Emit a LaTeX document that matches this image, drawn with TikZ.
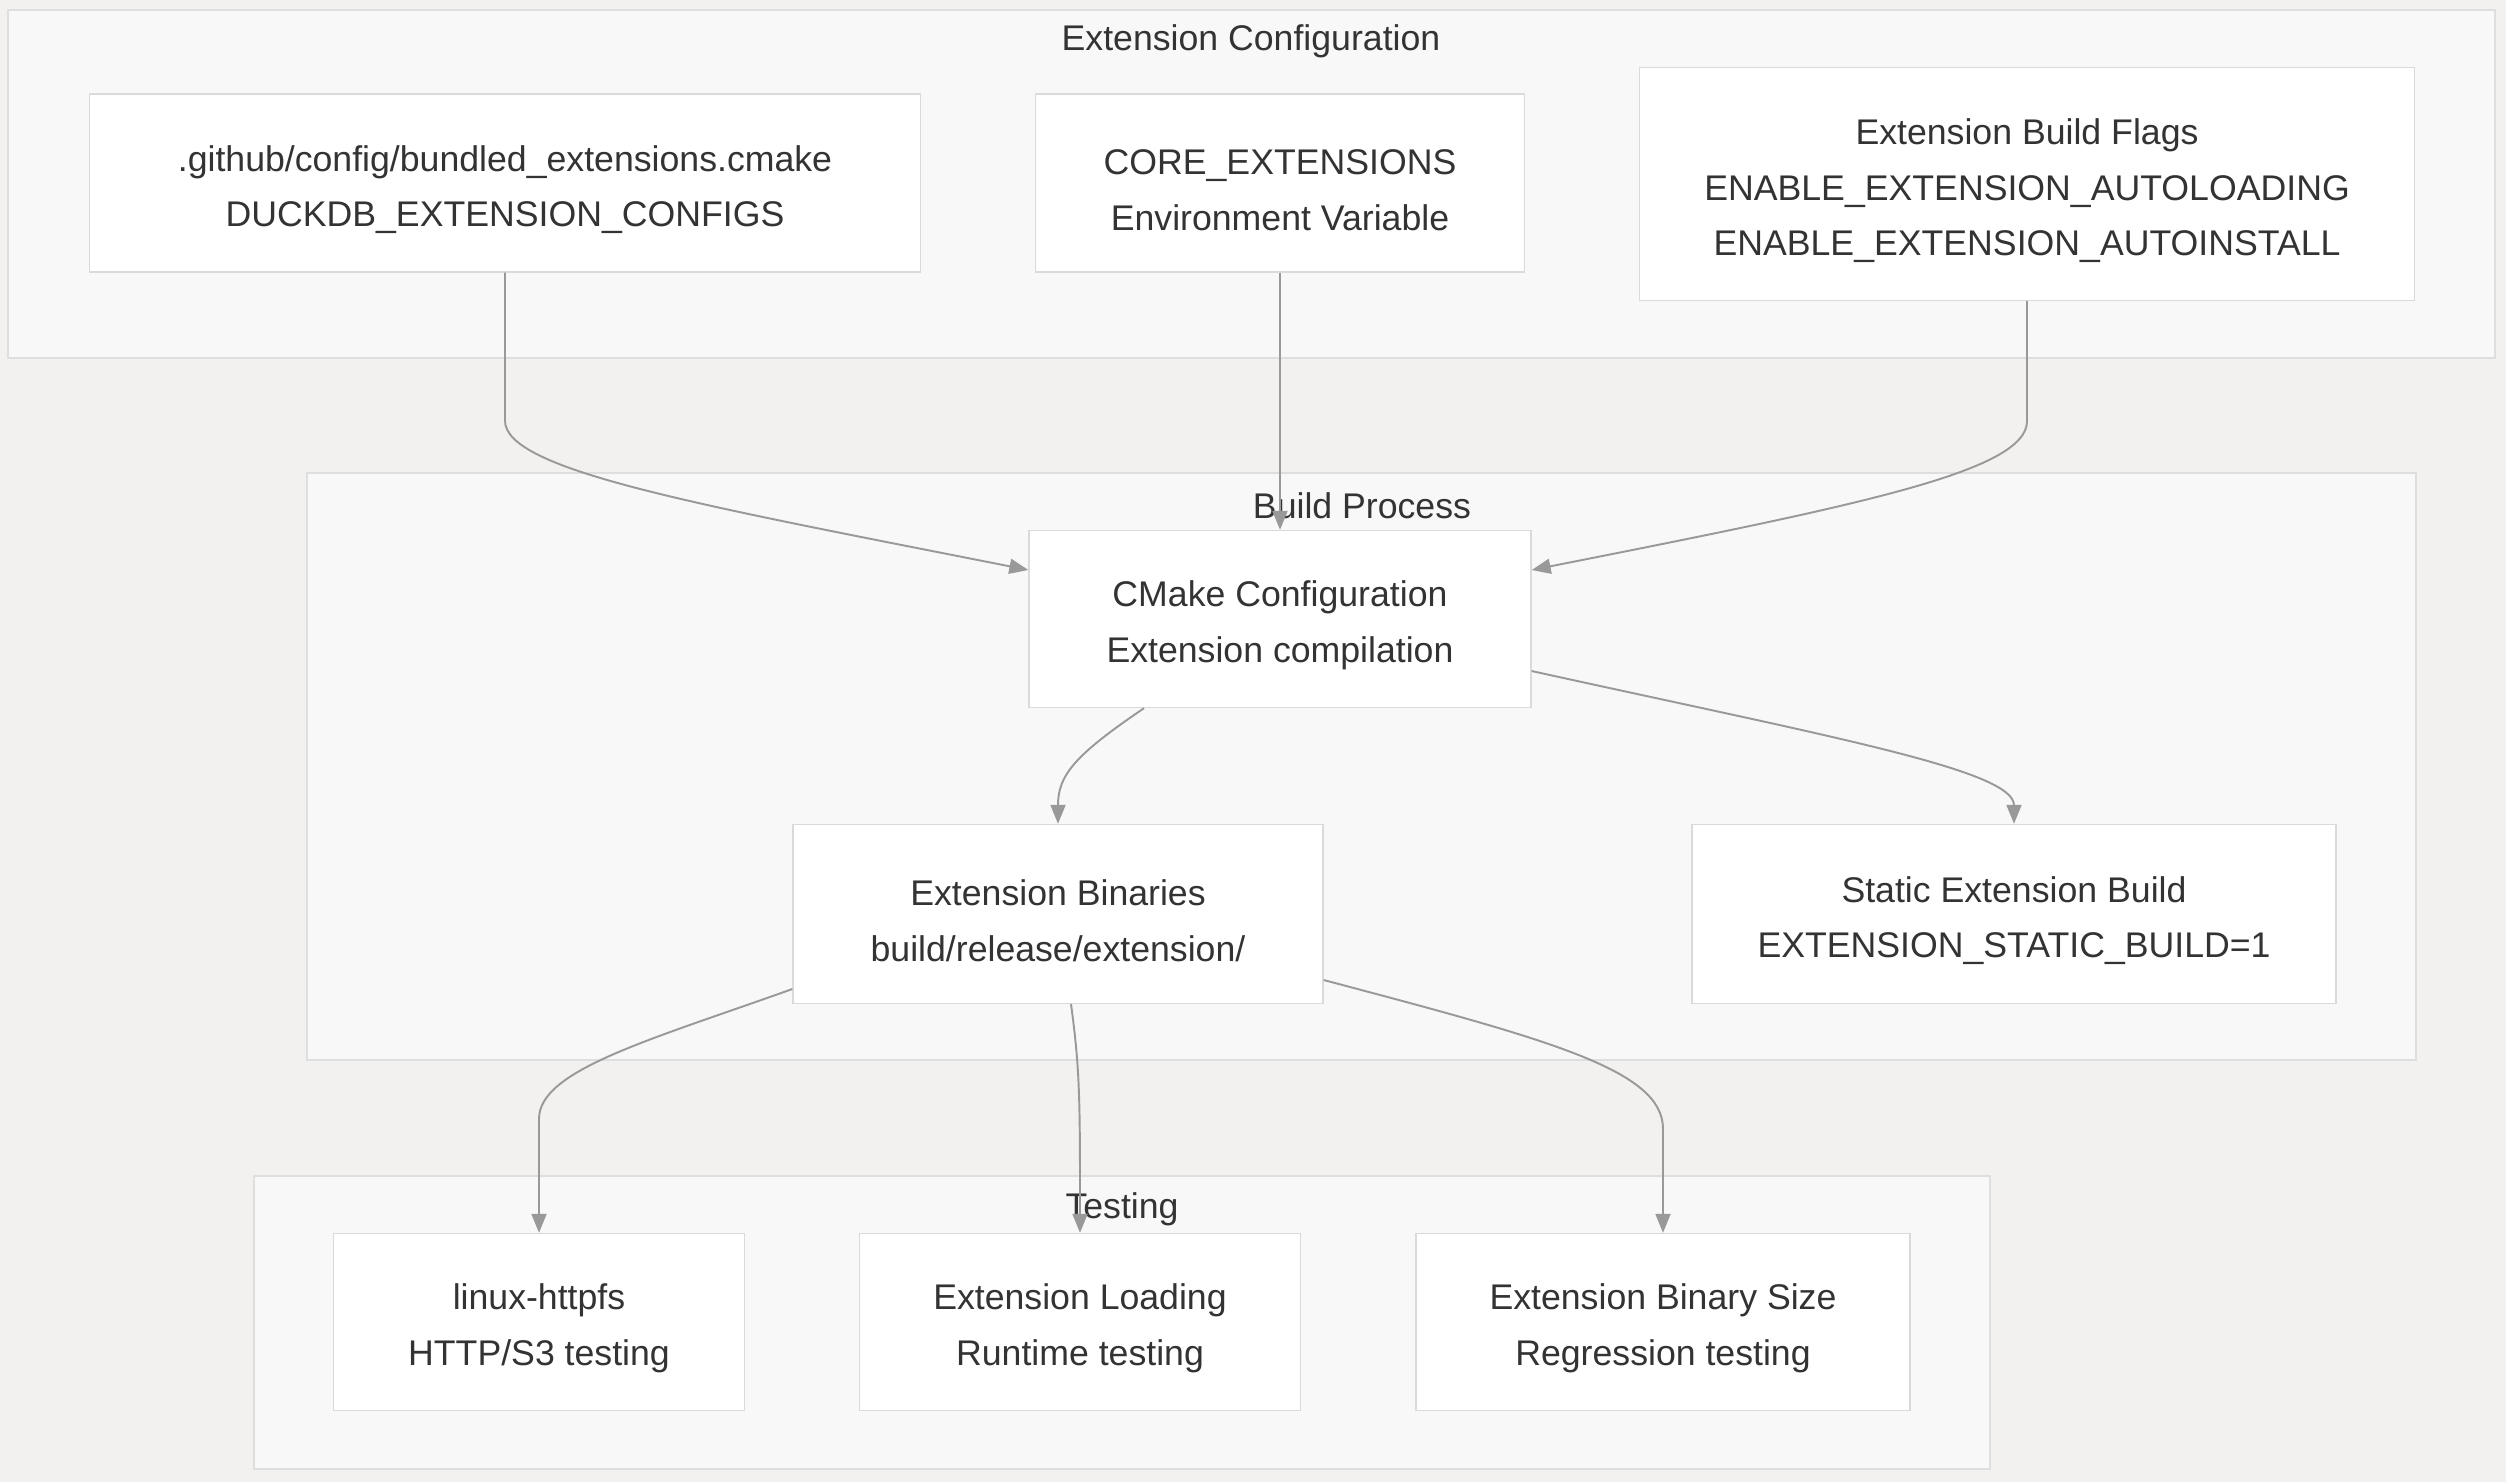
\documentclass[tikz,border=0pt]{standalone}
\usepackage{fontspec}
\setmainfont{Liberation Sans}
\usetikzlibrary{calc,arrows.meta}
\definecolor{bgcol}{RGB}{242,241,240}
\definecolor{grpfill}{RGB}{248,248,248}
\definecolor{grpline}{RGB}{222,222,222}
\definecolor{boxline}{RGB}{218,218,218}
\definecolor{edgecol}{RGB}{153,153,153}
\definecolor{txt}{RGB}{51,51,51}

\begin{document}
\begin{tikzpicture}[x=0.02cm, y=-0.02cm,
    every node/.style={font=\fontsize{20.3}{31.8}\selectfont, text=txt},
    box/.style={draw=boxline, fill=white, line width=0.8pt, align=center, inner sep=0pt},
    group/.style={draw=grpline, fill=grpfill, line width=0.9pt},
    edge/.style={draw=edgecol, line width=1.1pt, -{Triangle[length=0.38cm,width=0.3cm]}}]

    % background
    \fill[bgcol] (0,0) rectangle (2506,1482);
    \useasboundingbox (0,0) rectangle (2506,1482);

    % groups
    \draw[group] (8,10) rectangle (2495,358);
    \node (cfgtitle) at (1251,41) {Extension Configuration};

    \draw[group] (307,473) rectangle (2416,1060);
    \node (buildtitle) at (1362,506) {Build Process};

    \draw[group] (254,1176) rectangle (1990,1469);
    \node (testtitle) at (1122,1209) {Testing};

    % configuration sources
    \node[box, minimum width=16.62cm, minimum height=3.56cm] (bundled) at (505,183)
        {\strut.github/config/bundled\_extensions.cmake\\DUCKDB\_EXTENSION\_CONFIGS};
    \node[box, minimum width=9.78cm, minimum height=3.56cm] (coreext) at (1280,183)
        {\strut CORE\_EXTENSIONS\\Environment Variable};
    \node[box, minimum width=15.5cm, minimum height=4.66cm] (flags) at (2027,184)
        {\strut Extension Build Flags\\ENABLE\_EXTENSION\_AUTOLOADING\\ENABLE\_EXTENSION\_AUTOINSTALL};

    % build
    \node[box, minimum width=10.04cm, minimum height=3.54cm] (cmake) at (1280,619)
        {\strut CMake Configuration\\Extension compilation};
    \node[box, minimum width=10.6cm, minimum height=3.58cm] (binaries) at (1058,914)
        {\strut Extension Binaries\\build/release/extension/};
    \node[box, minimum width=12.88cm, minimum height=3.58cm] (static) at (2014,914)
        {\strut Static Extension Build\\EXTENSION\_STATIC\_BUILD=1};

    % tests
    \node[box, minimum width=8.22cm, minimum height=3.54cm] (httpfs) at (539,1322)
        {\strut linux-httpfs\\HTTP/S3 testing};
    \node[box, minimum width=8.82cm, minimum height=3.54cm] (loading) at (1080,1322)
        {\strut Extension Loading\\Runtime testing};
    \node[box, minimum width=9.88cm, minimum height=3.54cm] (binsize) at (1663,1322)
        {\strut Extension Binary Size\\Regression testing};

    % connectors
    \draw[edge] (bundled.south) -- ++(0,148)
        .. controls ++(0,50) and (700,505) .. ($(cmake.west)+(0,-49)$);
    \draw[edge] (coreext.south) -- (cmake.north);
    \draw[edge] (flags.south) -- ++(0,120)
        .. controls ++(0,50) and (1860,505) .. ($(cmake.east)+(0,-49)$);

    \draw[edge] ($(cmake.south)+(-136,0)$) .. controls (1075,755) and (1058,775) .. (binaries.north);
    \draw[edge] ($(cmake.east)+(0,52)$) .. controls (1831,737) and (2014,770) .. (static.north);

    \draw[edge] ($(binaries.west)+(0,75)$) .. controls (650,1040) and (539,1070)
        .. ($(httpfs.north)+(0,-114)$) -- (httpfs.north);
    \draw[edge] ($(binaries.south)+(13,0)$) .. controls (1080,1070) and (1080,1100) .. (loading.north);
    \draw[edge] ($(binaries.east)+(0,66)$) .. controls (1550,1040) and (1663,1070)
        .. ($(binsize.north)+(0,-104)$) -- (binsize.north);
\end{tikzpicture}
\end{document}
